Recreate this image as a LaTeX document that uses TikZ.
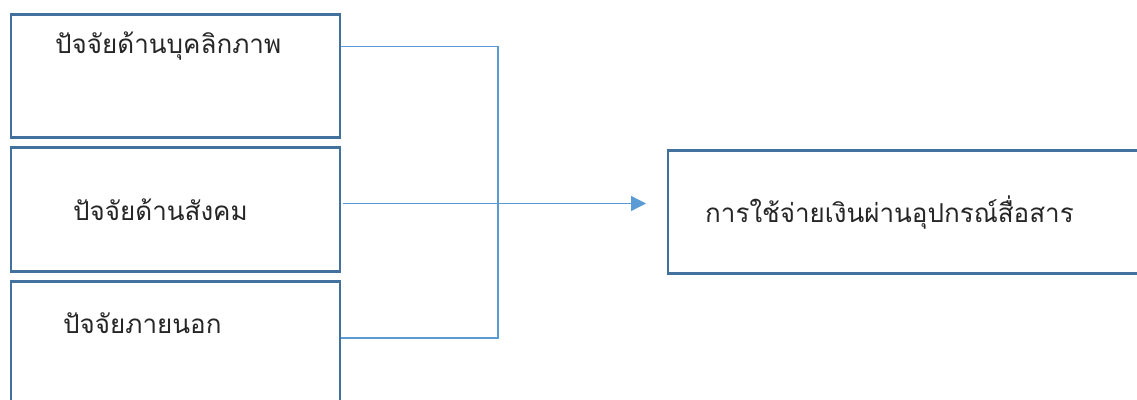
\documentclass[tikz,border=0pt]{standalone}
\usepackage{fontspec}
\newfontfamily\thaifont[Script=Thai]{Loma}
\usetikzlibrary{arrows.meta}
\definecolor{boxblue}{HTML}{41719C}
\definecolor{lineblue}{HTML}{5B9BD5}
\definecolor{txt}{HTML}{262626}
\tikzset{
  factorbox/.style={draw=boxblue, line width=2.6pt, fill=white, rectangle, inner sep=0pt, anchor=north west},
  label text/.style={font=\thaifont\fontsize{26}{30}\selectfont, text=txt, inner sep=0pt, anchor=base west},
  conn/.style={draw=lineblue, line width=1.3pt},
}
\begin{document}
\begin{tikzpicture}[x=1pt,y=-1pt]
\useasboundingbox (0,0) rectangle (1137,399);
\clip (0,0) rectangle (1137,399);
% boxes
\node[factorbox, minimum width=329pt, minimum height=123pt] (b1) at (9.5,13) {};
\node[factorbox, minimum width=329pt, minimum height=124pt] (b2) at (9.5,146) {};
\node[factorbox, minimum width=329pt, minimum height=140pt] (b3) at (9.5,280) {};
\node[factorbox, minimum width=500pt, minimum height=123pt] (r) at (666.5,149) {};
% texts
\node[label text] (t1) at (55,53) {ปัจจัยด้านบุคลิกภาพ};
\node[label text] (t2) at (73,220) {ปัจจัยด้านสังคม};
\node[label text] (t3) at (63,333) {ปัจจัยภายนอก};
\node[label text] (t4) at (705,222) {การใช้จ่ายเงินผ่านอุปกรณ์สื่อสาร};
% connectors
\coordinate (j1) at (498,46.5);
\coordinate (j3) at (498,338);
\coordinate (s2) at (343,203.5);
\coordinate (a2) at (646,203.5);
\draw[conn] (b1.east |- j1) -- (j1) -- (j3) -- (b3.east |- j3);
\draw[conn, -{Triangle[length=15pt,width=15pt]}] (s2) -- (a2);
\end{tikzpicture}
\end{document}
